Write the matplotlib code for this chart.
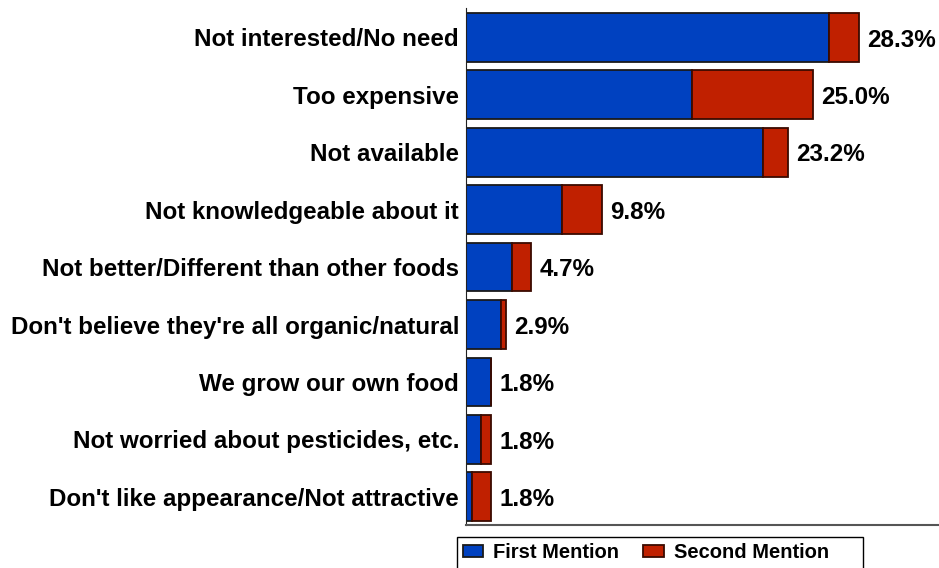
import numpy as np
import matplotlib.pyplot as plt
from matplotlib.patches import Rectangle

reasons = ["Not interested/No need", "Too expensive", "Not available",
           "Not knowledgeable about it", "Not better/Different than other foods",
           "Don't believe they're all organic/natural", "We grow our own food",
           "Not worried about pesticides, etc.", "Don't like appearance/Not attractive"]
first = [26.1, 16.3, 21.4, 6.9, 3.3, 2.5, 1.8, 1.1, 0.4]
second = [2.2, 8.7, 1.8, 2.9, 1.4, 0.4, 0.0, 0.7, 1.4]
totals = ["28.3%", "25.0%", "23.2%", "9.8%", "4.7%", "2.9%", "1.8%", "1.8%", "1.8%"]

plt.rcParams['font.family'] = ['Liberation Sans', 'DejaVu Sans']
plt.rcParams['font.weight'] = 'bold'
fs = 17.4

fig = plt.figure(figsize=(9.39, 5.68), dpi=100)
ax = fig.add_axes([466/939, 1 - 525/568, 1 - 466/939, (525 - 8)/568])

y = np.arange(len(reasons))
b1 = ax.barh(y, first, height=0.85, color='#0041c0', edgecolor='#1a1a1a', linewidth=1.3, label='First Mention')
b2 = ax.barh(y, second, left=first, height=0.85, color='#c02000', edgecolor='#3a0a00', linewidth=1.3, label='Second Mention')

for i, t in enumerate(totals):
    ax.annotate(t, (first[i] + second[i], i), xytext=(6, -2), textcoords='offset points',
                va='center', ha='left', fontsize=fs, fontweight='bold')

ax.set_yticks(y)
ax.set_yticklabels(reasons, fontsize=fs, fontweight='bold')
ax.tick_params(axis='y', length=0, pad=5)
ax.set_xticks([])
ax.set_xlim(0, 34.05)
ax.set_ylim(8.49, -0.51)
ax.spines['top'].set_visible(False)
ax.spines['right'].set_visible(False)
ax.spines['left'].set_color('#222222')
ax.spines['bottom'].set_color('#555555')
ax.spines['bottom'].set_linewidth(1.5)

# legend box is wider than its entries, so draw the border separately
fig.patches.append(Rectangle((457/939, -0.02), (863 - 457)/939, 1 - 537/568 + 0.02,
                             transform=fig.transFigure, fill=False, edgecolor='black', linewidth=1.0))
fig.legend(handles=[b1, b2], loc='upper left', bbox_to_anchor=(457/939, 1 - 537/568),
           ncol=2, fontsize=14.5, frameon=False,
           handlelength=1.0, handleheight=0.6, columnspacing=1.2, borderpad=0.3,
           handletextpad=0.5, borderaxespad=0)

fig.savefig('out.png', dpi=100)
